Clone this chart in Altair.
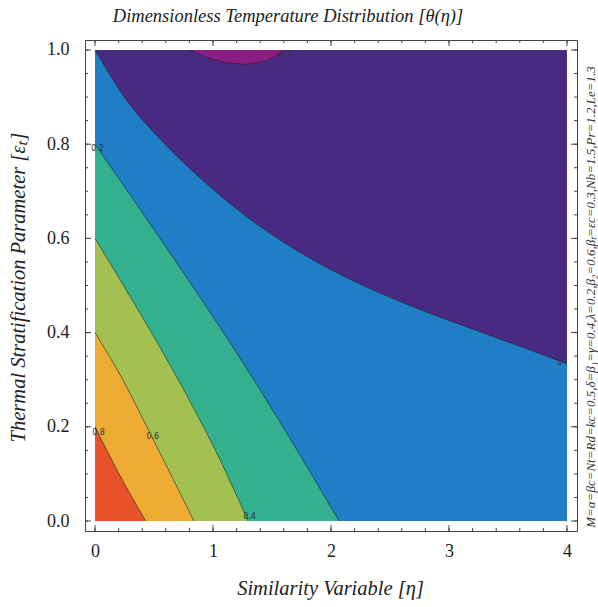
import altair as alt
import pandas as pd

SERIF = "Liberation Serif"

# ---- contour boundaries of θ(η, ε_t), sampled as (η, ε_t) points ----
# θ = 0 (blue / purple)
c00_eta = [0.0, 0.254, 0.593, 0.983, 1.356, 1.907, 2.246, 2.754, 3.263, 4.0]
c00_eps = [1.0, 0.898, 0.800, 0.708, 0.633, 0.546, 0.503, 0.449, 0.402, 0.334]
# θ = 0.2 (teal / blue)
c02_eta = [0.0, 0.381, 0.763, 1.102, 1.415, 1.737, 2.068]
c02_eps = [0.80, 0.662, 0.522, 0.395, 0.272, 0.140, 0.0]
# θ = 0.4 (green / teal)
c04_eta = [0.0, 0.28, 0.559, 0.814, 1.05, 1.297]
c04_eps = [0.60, 0.484, 0.365, 0.250, 0.135, 0.0]
# θ = 0.6 (orange / green)
c06_eta = [0.0, 0.235, 0.48, 0.839]
c06_eps = [0.40, 0.30, 0.18, 0.0]
# θ = 0.8 (red / orange)
c08_eta = [0.0, 0.21, 0.43]
c08_eps = [0.20, 0.097, 0.0]
# θ = -0.2 (closed pocket at the top edge)
cm02_eta = [0.81, 0.95, 1.10, 1.27, 1.45, 1.62]
cm02_eps = [1.0, 0.984, 0.974, 0.970, 0.977, 1.0]

# full plotted region
region_eta = [0.0, 4.0]
region_eps = [1.0, 1.0]

# contour labels
label_text = ["0.8", "0.6", "0.4", "0.2", "-0.2", "0"]
label_eta = [0.03, 0.49, 1.31, 0.02, 1.60, 3.94]
label_eps = [0.187, 0.178, 0.008, 0.79, 0.99, 0.335]

# axis ticks
x_major = [0, 1, 2, 3, 4]
x_minor = [round(0.2 * i, 2) for i in range(21)]
y_major = [0.0, 0.2, 0.4, 0.6, 0.8, 1.0]
y_minor = [round(0.05 * i, 2) for i in range(21)]

param_note = ("M=α=βc=Nt=Rd=kc=0.5,δ=β₁=γ=0.4,λ=0.2,β₂=0.6,"
              "βₜ=εc=0.3,Nb=1.5,Pr=1.2,Le=1.3")

W, H = 492, 491

xs = alt.Scale(domain=[-0.085, 4.085], nice=False, zero=False)
ys = alt.Scale(domain=[-0.0212, 1.0212], nice=False, zero=False)

x_axis = alt.Axis(
    values=x_major, format="d", grid=False, ticks=False, domain=False,
    labelFont=SERIF, labelFontSize=18, labelColor="#222", labelPadding=11,
    title="Similarity Variable [η]", titleFont=SERIF, titleFontSize=20.5,
    titleFontStyle="italic", titleFontWeight="normal", titleColor="#222",
    titleX=245, titleY=57, titleAlign="center", titleBaseline="middle",
)
y_axis = alt.Axis(
    values=y_major, format=".1f", grid=False, ticks=False, domain=False,
    labelFont=SERIF, labelFontSize=18, labelColor="#222", labelPadding=16,
    title="Thermal Stratification Parameter [εₜ]", titleFont=SERIF,
    titleFontSize=20.5, titleFontStyle="italic", titleFontWeight="normal",
    titleColor="#222", titleX=-67, titleY=247, titleAngle=270,
    titleAlign="center", titleBaseline="middle",
)


def X(field="eta"):
    return alt.X(f"{field}:Q", scale=xs, axis=x_axis)


def Y(field="eps"):
    return alt.Y(f"{field}:Q", scale=ys, axis=y_axis)


def curve(eta, eps):
    return pd.DataFrame({"eta": eta, "eps": eps})


def band_below(eta, eps, color):
    return alt.Chart(curve(eta, eps)).mark_area(
        color=color, interpolate="monotone", opacity=1
    ).encode(x=X(), y=Y(), y2=alt.datum(0))


layers = []
# purple background band (θ < 0)
layers.append(band_below(region_eta, region_eps, "#482A83"))
layers.append(band_below(c00_eta, c00_eps, "#1F7EC5"))
layers.append(band_below(c02_eta, c02_eps, "#33B08D"))
layers.append(band_below(c04_eta, c04_eps, "#A2C150"))
layers.append(band_below(c06_eta, c06_eps, "#EEAB33"))
layers.append(band_below(c08_eta, c08_eps, "#E8522A"))
# pocket with θ < -0.2
layers.append(
    alt.Chart(curve(cm02_eta, cm02_eps)).mark_area(
        color="#8A1E84", interpolate="monotone"
    ).encode(x=X(), y=Y(), y2=alt.datum(1))
)

# contour lines
for eta, eps in [(c00_eta, c00_eps), (c02_eta, c02_eps), (c04_eta, c04_eps),
                 (c06_eta, c06_eps), (c08_eta, c08_eps), (cm02_eta, cm02_eps)]:
    layers.append(
        alt.Chart(curve(eta, eps)).mark_line(
            color="#222", strokeWidth=0.8, opacity=0.75, interpolate="monotone"
        ).encode(x=X(), y=Y())
    )

# contour labels
layers.append(
    alt.Chart(pd.DataFrame({"t": label_text, "eta": label_eta, "eps": label_eps}))
    .mark_text(fontSize=8, color="#333", font="DejaVu Sans")
    .encode(x=X(), y=Y(), text="t:N")
)

# inward frame ticks
for vals, ln in [(x_major, 6), (x_minor, 3)]:
    d = pd.DataFrame({"v": vals})
    layers.append(alt.Chart(d).mark_rule(color="#444", strokeWidth=1).encode(
        x=X("v"), y=alt.value(H), y2=alt.value(H - ln)))
    layers.append(alt.Chart(d).mark_rule(color="#444", strokeWidth=1).encode(
        x=X("v"), y=alt.value(0), y2=alt.value(ln)))
for vals, ln in [(y_major, 6), (y_minor, 3)]:
    d = pd.DataFrame({"v": vals})
    layers.append(alt.Chart(d).mark_rule(color="#444", strokeWidth=1).encode(
        y=Y("v"), x=alt.value(0), x2=alt.value(ln)))
    layers.append(alt.Chart(d).mark_rule(color="#444", strokeWidth=1).encode(
        y=Y("v"), x=alt.value(W), x2=alt.value(W - ln)))

# parameter note along the right edge
layers.append(
    alt.Chart(pd.DataFrame({"note": [param_note]})).mark_text(
        font=SERIF, fontSize=13, fontStyle="italic", color="#333",
        angle=270, align="center", baseline="middle"
    ).encode(text="note:N", x=alt.value(506), y=alt.value(257))
)

chart = alt.layer(*layers).properties(
    width=W, height=H,
    autosize=alt.AutoSizeParams(type="none"),
    padding={"left": 85, "top": 40, "right": 21, "bottom": 76},
    title=alt.TitleParams(
        "Dimensionless Temperature Distribution [θ(η)]",
        font=SERIF, fontSize=18.5, fontStyle="italic", fontWeight="normal",
        color="#222", anchor="middle", dx=-43, dy=17, offset=12,
        baseline="bottom",
    ),
).configure_view(stroke="#444", strokeWidth=1)

chart.save("out.html", embed_options={"renderer": "svg", "actions": False})
